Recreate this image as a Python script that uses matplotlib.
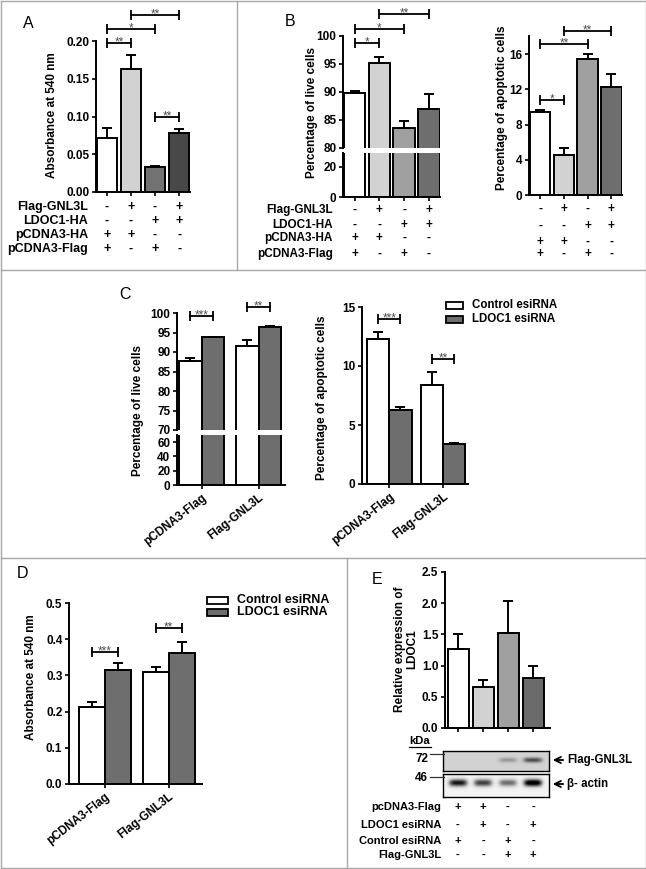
import numpy as np
import matplotlib
matplotlib.use('Agg')
import matplotlib.pyplot as plt
from matplotlib.lines import Line2D
from matplotlib.patches import Rectangle, FancyArrowPatch
from matplotlib import transforms

plt.rcParams['font.family'] = ['Liberation Sans', 'DejaVu Sans']
plt.rcParams['font.weight'] = 'bold'
plt.rcParams['axes.labelweight'] = 'bold'

# ------------------------------------------------------------------ data
# Panel A
a_values = [0.072, 0.163, 0.033, 0.078]
a_errors = [0.013, 0.019, 0.002, 0.006]
a_colors = ['white', '#d2d2d2', '#727272', '#484848']
a_ticks = [0.00, 0.05, 0.10, 0.15, 0.20]
a_rows = ['Flag-GNL3L', 'LDOC1-HA', 'pCDNA3-HA', 'pCDNA3-Flag']
a_signs = [['-', '+', '-', '+'], ['-', '-', '+', '+'],
           ['+', '+', '-', '-'], ['+', '-', '+', '-']]
a_sig = [(0, 1, 0.197, '**'), (0, 2, 0.216, '*'), (1, 3, 0.234, '**'), (2, 3, 0.099, '**')]

# Panel B (live cells)
b_live_values = [89.8, 95.2, 83.5, 86.9]
b_live_errors = [0.3, 1.1, 1.3, 2.7]
b_live_ticks_upper = [80, 85, 90, 95, 100]
b_live_ticks_lower = [0, 20]
b_live_sig = [(0, 1, 98.75, '*'), (0, 2, 101.25, '*'), (1, 3, 103.9, '**')]
# Panel B (apoptotic cells)
b_apo_values = [9.4, 4.5, 15.4, 12.3]
b_apo_errors = [0.3, 0.8, 0.6, 1.4]
b_apo_ticks = [0, 4, 8, 12, 16]
b_apo_sig = [(0, 1, 10.8, '*'), (0, 2, 17.1, '**'), (1, 3, 18.6, '**')]
b_colors = ['white', '#d2d2d2', '#a0a0a0', '#6e6e6e']
b_rows = ['Flag-GNL3L', 'LDOC1-HA', 'pCDNA3-HA', 'pCDNA3-Flag']
b_signs = [['-', '+', '-', '+'], ['-', '-', '+', '+'],
           ['+', '+', '-', '-'], ['+', '-', '+', '-']]

# Panels C and D (grouped)
groups = ['pCDNA3-Flag', 'Flag-GNL3L']
series_names = ['Control esiRNA', 'LDOC1 esiRNA']
series_colors = ['white', '#6e6e6e']
c_live_ctrl = [87.6, 91.5]
c_live_ctrl_err = [0.9, 1.7]
c_live_ldoc = [93.8, 96.5]
c_live_ldoc_err = [0.15, 0.15]
c_live_ticks_upper = [70, 75, 80, 85, 90, 95, 100]
c_live_ticks_lower = [0, 20, 40, 60]
c_live_sig = [(0, 99.2, '***'), (1, 101.5, '**')]
c_apo_ctrl = [12.3, 8.4]
c_apo_ctrl_err = [0.6, 1.1]
c_apo_ldoc = [6.3, 3.4]
c_apo_ldoc_err = [0.2, 0.1]
c_apo_ticks = [0, 5, 10, 15]
c_apo_sig = [(0, 14.0, '***'), (1, 10.6, '**')]
d_ctrl = [0.213, 0.309]
d_ctrl_err = [0.014, 0.014]
d_ldoc = [0.316, 0.361]
d_ldoc_err = [0.019, 0.032]
d_ticks = [0.0, 0.1, 0.2, 0.3, 0.4, 0.5]
d_sig = [(0, 0.365, '***'), (1, 0.431, '**')]

# Panel E
e_values = [1.26, 0.66, 1.53, 0.80]
e_errors = [0.25, 0.11, 0.50, 0.20]
e_colors = ['white', '#d2d2d2', '#a0a0a0', '#6b6b6b']
e_ticks = [0.0, 0.5, 1.0, 1.5, 2.0, 2.5]
e_rows = ['pcDNA3-Flag', 'LDOC1 esiRNA', 'Control esiRNA', 'Flag-GNL3L']
e_signs = [['+', '+', '-', '-'], ['-', '+', '-', '+'],
           ['+', '-', '+', '-'], ['-', '-', '+', '+']]
blot_flag_band = [0.0, 0.0, 0.22, 0.5]
blot_actin_band = [0.85, 0.72, 0.55, 1.0]
blot_markers = ['72', '46']

# ------------------------------------------------------------------ layout helpers
W, H = 646, 869
fig = plt.figure(figsize=(W / 100, H / 100), dpi=100)


def fx(x):
    return x / W


def fy(y):
    return 1 - y / H


def add_ax(l, t, r, b):
    return fig.add_axes([l / W, 1 - b / H, (r - l) / W, (b - t) / H])


TICK_FS = 8.5
LW = 1.4


def style(ax, left=True, bottom=True):
    for s in ['top', 'right']:
        ax.spines[s].set_visible(False)
    ax.spines['left'].set_visible(left)
    ax.spines['bottom'].set_visible(bottom)
    for s in ['left', 'bottom']:
        ax.spines[s].set_linewidth(LW)
    ax.tick_params(direction='out', length=3.2, width=1.2, labelsize=TICK_FS, pad=1.5)
    ax.patch.set_alpha(0)


def bars(ax, x, vals, errs, colors, width):
    ax.bar(x, vals, width, color=colors, edgecolor='black', linewidth=LW, zorder=2)
    if errs is not None:
        ax.errorbar(x, vals, yerr=[np.zeros(len(vals)), errs], fmt='none', ecolor='black',
                    elinewidth=LW, capsize=3.5, capthick=LW, zorder=3, clip_on=False)


def bracket(ax, x1, x2, y, label):
    ax.plot([x1, x2], [y, y], color='black', lw=1.3, marker='|', ms=7, mew=1.3,
            clip_on=False, zorder=4)
    ax.annotate(label, xy=((x1 + x2) / 2, y), xytext=(0, -1.8), textcoords='offset points',
                ha='center', va='baseline', fontsize=8.5, fontweight='normal',
                color='#505050', annotation_clip=False)


def sign_table(ax, rows_y, signs, xs, fs):
    tr = transforms.blended_transform_factory(ax.transData, fig.transFigure)
    for yy, row in zip(rows_y, signs):
        for xv, s in zip(xs, row):
            ax.text(xv, fy(yy), s, transform=tr, ha='center', va='center',
                    fontsize=fs, clip_on=False)


def row_labels(x_right, rows_y, labels, fs):
    for yy, lab in zip(rows_y, labels):
        fig.text(fx(x_right), fy(yy), lab, ha='right', va='center', fontsize=fs)


def ylabel(x, y, text, fs=8.5):
    fig.text(fx(x), fy(y), text, rotation=90, ha='center', va='center', fontsize=fs,
             multialignment='center', linespacing=1.05)


def letter(x, y, s):
    fig.text(fx(x), fy(y), s, ha='center', va='center', fontsize=11.5, fontweight='normal')


# ------------------------------------------------------------------ panel borders
border = '#a8a8a8'
for (x0, y0, x1, y1) in [(0.5, 0.5, 645.5, 0.5), (0.5, 867.5, 645.5, 867.5),
                         (0.5, 0.5, 0.5, 867.5), (645.5, 0.5, 645.5, 867.5),
                         (237, 0.5, 237, 270), (0.5, 270, 645.5, 270),
                         (0.5, 558, 645.5, 558), (347, 558, 347, 867.5)]:
    fig.add_artist(Line2D([fx(x0), fx(x1)], [fy(y0), fy(y1)], color=border, lw=1.0))

# ------------------------------------------------------------------ Panel A
axA = add_ax(96, 41, 190, 192)
xA = np.arange(len(a_values))
bars(axA, xA, a_values, a_errors, a_colors, 0.85)
axA.set_xlim(-0.45, 3.45)
axA.set_ylim(0, 0.2)
axA.set_yticks(a_ticks)
axA.set_yticklabels(['%.2f' % t for t in a_ticks])
axA.set_xticks(xA)
axA.set_xticklabels([])
style(axA)
for i, j, y, lab in a_sig:
    bracket(axA, xA[i], xA[j], y, lab)
ylabel(52, 115, 'Absorbance at 540 nm')
rowsA = [207, 221, 235, 249]
row_labels(88, rowsA, a_rows, 9)
sign_table(axA, rowsA, a_signs, xA, 9)
letter(28, 23, 'A')

# ------------------------------------------------------------------ Panel B live (broken axis)
xB = np.arange(4)
axBu = add_ax(343, 36, 440, 148)
axBl = add_ax(343, 153, 440, 197)
bars(axBu, xB, b_live_values, b_live_errors, b_colors, 0.86)
bars(axBl, xB, b_live_values, None, b_colors, 0.86)
for ax, ylim in [(axBu, (80, 100)), (axBl, (0, 29.3))]:
    ax.set_xlim(-0.47, 3.45)
    ax.set_ylim(*ylim)
style(axBu, bottom=False)
axBu.set_xticks([])
axBu.set_yticks(b_live_ticks_upper)
style(axBl)
axBl.set_yticks(b_live_ticks_lower)
axBl.set_xticks(xB)
axBl.set_xticklabels([])
for i, j, y, lab in b_live_sig:
    bracket(axBu, xB[i], xB[j], y, lab)
ylabel(312, 112, 'Percentage of live cells')
rowsB = [210, 225, 238, 254]
row_labels(333, rowsB, b_rows, 8.5)
sign_table(axBl, rowsB, b_signs, xB, 8.5)
letter(290, 22, 'B')

# ------------------------------------------------------------------ Panel B apoptotic
axB2 = add_ax(529, 36.4, 622, 195)
bars(axB2, xB, b_apo_values, b_apo_errors, b_colors, 0.86)
axB2.set_xlim(-0.47, 3.45)
axB2.set_ylim(0, 18)
axB2.set_yticks(b_apo_ticks)
axB2.set_xticks(xB)
axB2.set_xticklabels([])
style(axB2)
for i, j, y, lab in b_apo_sig:
    bracket(axB2, xB[i], xB[j], y, lab)
ylabel(502, 108, 'Percentage of apoptotic cells')
sign_table(axB2, [209, 226, 242, 254], b_signs, xB, 8.5)

# ------------------------------------------------------------------ Panel C live (broken axis)
xG = np.arange(len(groups))


def grouped(ax, ctrl, ctrl_err, ldoc, ldoc_err, w):
    bars(ax, xG - w / 2, ctrl, ctrl_err, [series_colors[0]] * len(ctrl), w)
    bars(ax, xG + w / 2, ldoc, ldoc_err, [series_colors[1]] * len(ldoc), w)


wC = 0.395
axCu = add_ax(177, 313, 285, 430)
axCl = add_ax(177, 435, 285, 485)
grouped(axCu, c_live_ctrl, c_live_ctrl_err, c_live_ldoc, c_live_ldoc_err, wC)
grouped(axCl, c_live_ctrl, None, c_live_ldoc, None, wC)
for ax, ylim in [(axCu, (70, 100)), (axCl, (0, 70))]:
    ax.set_xlim(-0.43, 1.46)
    ax.set_ylim(*ylim)
style(axCu, bottom=False)
axCu.set_xticks([])
axCu.set_yticks(c_live_ticks_upper)
style(axCl)
axCl.set_yticks(c_live_ticks_lower)
axCl.set_xticks(xG)
axCl.set_xticklabels(groups, rotation=38, ha='right', rotation_mode='anchor', fontsize=8.5)
for g, y, lab in c_live_sig:
    bracket(axCu, xG[g] - wC / 2, xG[g] + wC / 2, y, lab)
ylabel(138, 410, 'Percentage of live cells')
letter(125, 295, 'C')

# ------------------------------------------------------------------ Panel C apoptotic
wC2 = 0.41
axC2 = add_ax(362, 307, 468, 484)
grouped(axC2, c_apo_ctrl, c_apo_ctrl_err, c_apo_ldoc, c_apo_ldoc_err, wC2)
axC2.set_xlim(-0.51, 1.46)
axC2.set_ylim(0, 15)
axC2.set_yticks(c_apo_ticks)
axC2.set_xticks(xG)
axC2.set_xticklabels(groups, rotation=38, ha='right', rotation_mode='anchor', fontsize=8.5)
style(axC2)
for g, y, lab in c_apo_sig:
    bracket(axC2, xG[g] - wC2 / 2, xG[g] + wC2 / 2, y, lab)
ylabel(322, 398, 'Percentage of apoptotic cells')


def legend(x_box, y_rows, box_w, box_h, x_text, fs):
    for yy, name, col in zip(y_rows, series_names, series_colors):
        fig.add_artist(Rectangle((fx(x_box), fy(yy + box_h / 2)), box_w / W, box_h / H,
                                 facecolor=col, edgecolor='black', lw=1.3,
                                 transform=fig.transFigure))
        fig.text(fx(x_text), fy(yy), name, ha='left', va='center', fontsize=fs)


legend(446, [305, 319], 17, 7, 472, 8.3)

# ------------------------------------------------------------------ Panel D
wD = 0.41
axD = add_ax(69, 603, 202, 784)
grouped(axD, d_ctrl, d_ctrl_err, d_ldoc, d_ldoc_err, wD)
axD.set_xlim(-0.56, 1.52)
axD.set_ylim(0, 0.5)
axD.set_yticks(d_ticks)
axD.set_yticklabels(['%.1f' % t for t in d_ticks])
axD.set_xticks(xG)
axD.set_xticklabels(groups, rotation=38, ha='right', rotation_mode='anchor', fontsize=8.5)
style(axD)
for g, y, lab in d_sig:
    bracket(axD, xG[g] - wD / 2, xG[g] + wD / 2, y, lab)
ylabel(31, 677, 'Absorbance at 540 nm')
legend(207, [600, 612], 21, 7, 237, 9)
letter(22, 573, 'D')

# ------------------------------------------------------------------ Panel E
xE = np.arange(len(e_values))
axE = add_ax(445, 572, 550, 728)
bars(axE, xE, e_values, e_errors, e_colors, 0.84)
axE.set_xlim(-0.52, 3.68)
axE.set_ylim(0, 2.5)
axE.set_yticks(e_ticks)
axE.set_yticklabels(['%.1f' % t for t in e_ticks])
axE.set_xticks(xE)
axE.set_xticklabels([])
style(axE)
ylabel(406, 649, 'Relative expression of\nLDOC1')
letter(377, 580, 'E')

# western blots
nx, ny = 220, 40
bx = np.linspace(-0.6, 3.64, nx)
by = np.linspace(0, 1, ny)
BX, BY = np.meshgrid(bx, by)


def blot_image(levels, bg, yc, sy, sx):
    img = np.full(BX.shape, bg)
    for lane, a in enumerate(levels):
        img += a * np.exp(-((BX - lane) / sx) ** 4) * np.exp(-((BY - yc) / sy) ** 2)
    return np.clip(img, 0, 1)


for (t, b, levels, bg, yc, sy) in [(751, 771, blot_flag_band, 0.28, 0.45, 0.13),
                                   (774, 797, blot_actin_band, 0.10, 0.38, 0.17)]:
    axb = add_ax(443, t, 549, b)
    axb.imshow(blot_image(levels, bg, yc, sy, 0.38), cmap='Greys', vmin=0, vmax=1,
               aspect='auto', extent=(-0.6, 3.64, 1, 0), interpolation='bilinear')
    axb.set_xticks([])
    axb.set_yticks([])
    for s in axb.spines.values():
        s.set_linewidth(1.0)

fig.text(fx(420), fy(741), 'kDa', ha='center', va='center', fontsize=8)
fig.add_artist(Line2D([fx(409), fx(431)], [fy(746.5), fy(746.5)], color='black', lw=0.9))
for lab, ty, ly in zip(blot_markers, [759, 778], [754, 777]):
    fig.text(fx(428), fy(ty), lab, ha='right', va='center', fontsize=8.5)
    fig.add_artist(Line2D([fx(430), fx(444)], [fy(ly), fy(ly)], color='#333333', lw=0.9))

for lab, yy in [('Flag-GNL3L', 760), ('β- actin', 784)]:
    fig.add_artist(FancyArrowPatch((fx(566), fy(yy)), (fx(550), fy(yy)),
                                   transform=fig.transFigure, arrowstyle='->',
                                   mutation_scale=11, lw=1.3, color='black'))
    fig.text(fx(567), fy(yy), lab, ha='left', va='center', fontsize=8.3)

rowsE = [807, 825, 841, 855]
row_labels(441, rowsE, e_rows, 8)
sign_table(axE, rowsE, e_signs, xE, 8)

fig.savefig('out.png', dpi=100)
